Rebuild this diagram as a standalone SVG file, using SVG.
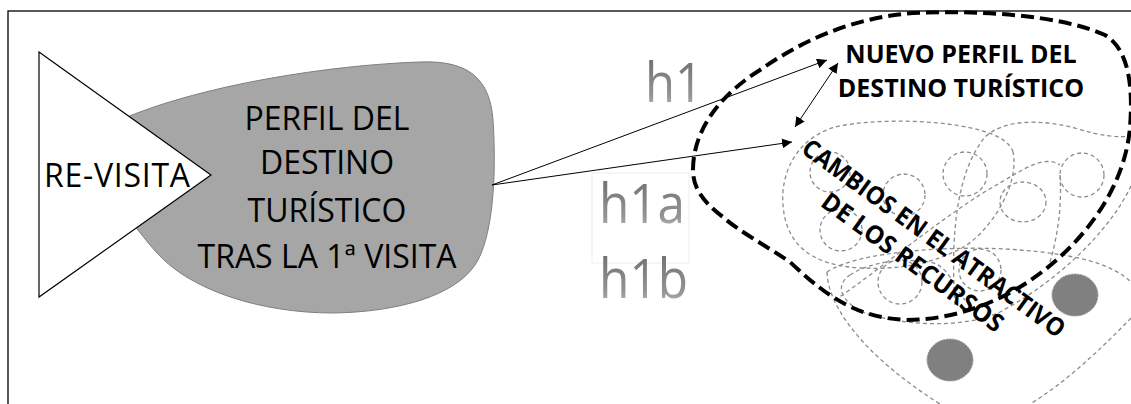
<svg xmlns="http://www.w3.org/2000/svg" width="1131" height="404" viewBox="0 0 1131 404">
<style>
.frame{fill:none;stroke:#000;stroke-width:1.3}
.lbl{font-family:"Open Sans","Noto Sans",sans-serif;fill:#000}
.hl{font-family:"Open Sans","Noto Sans",sans-serif;font-size:55px;fill:url(#hg)}
.bold{font-family:"Open Sans","Noto Sans",sans-serif;font-weight:bold;font-size:25px;fill:#000}
.arr{fill:none;stroke:#000;stroke-width:1}
.g{fill:none;stroke:#8c8c8c;stroke-width:1.3;stroke-dasharray:4 3}
.dot{fill:#808080;stroke:#9a9a9a;stroke-width:1;stroke-dasharray:2 1}
.big{fill:none;stroke:#000;stroke-width:4;stroke-dasharray:13 6}
</style>
<defs>
<linearGradient id="hg" x1="0" y1="0" x2="0" y2="1">
<stop offset="0" stop-color="#646464"/>
<stop offset="0.7" stop-color="#949494"/>
<stop offset="1" stop-color="#cfcfcf"/>
</linearGradient>
<marker id="ah" viewBox="0 0 10 10" refX="10" refY="5" markerWidth="10" markerHeight="10" markerUnits="userSpaceOnUse" orient="auto-start-reverse">
<path d="M0,0 L10,5 L0,10 z" fill="#000"/>
</marker>
</defs>
<rect width="1131" height="404" fill="#fff"/>
<rect class="frame" x="8" y="11" width="1200" height="500"/>

<g id="perfil">
<path d="M120,120 C200,85 330,65 420,62 C470,60 490,80 493,120 C497,180 492,240 475,265 C455,295 400,312 333,313 C260,313 190,290 157,253 C145,240 135,225 125,215 Z" fill="#a6a6a6" stroke="#7f7f7f" stroke-width="1"/>
<text class="lbl" font-size="32" text-anchor="middle"><tspan x="327" y="130">PERFIL DEL</tspan><tspan x="327" y="174">DESTINO</tspan><tspan x="327" y="222">TURÍSTICO</tspan><tspan x="327" y="268">TRAS LA 1ª VISITA</tspan></text>
</g>

<g id="revisita">
<polygon points="39,52 211,175 39,297" fill="#fff" stroke="#000" stroke-width="1.2"/>
<text class="lbl" font-size="32" x="44" y="187" textLength="146">RE-VISITA</text>
</g>

<g id="hypotheses">
<text class="hl" x="645" y="102" textLength="58" lengthAdjust="spacingAndGlyphs">h1</text>
<rect x="592" y="173" width="97" height="90" fill="#fff" stroke="#eeeeee" stroke-width="1"/>
<text class="hl" x="599" y="223" textLength="86" lengthAdjust="spacingAndGlyphs">h1a</text>
<text class="hl" x="599" y="298" textLength="89" lengthAdjust="spacingAndGlyphs">h1b</text>
</g>

<g id="recursos">
<path class="g" d="M1013,152 C1005,122 900,116 845,125 C800,132 780,170 783,205 C786,245 812,266 862,268 C905,270 935,262 962,248 C990,232 1020,185 1013,152"/>
<path class="g" d="M955,305 C950,230 958,170 985,137 C1005,118 1045,120 1075,128 C1100,136 1120,138 1131,136"/>
<path class="g" d="M835,300 C880,270 950,210 1000,183 C1025,168 1045,155 1060,165"/>
<path class="g" d="M1060,175 C1062,205 1058,235 1050,262"/>
<path class="g" d="M1131,186 C1110,230 1060,280 1000,312 C960,330 900,325 862,312 C840,300 835,285 850,275"/>
<path class="g" d="M827,272 C860,250 960,245 1020,250 C1070,254 1110,262 1131,282"/>
<path class="g" d="M827,272 C828,310 870,360 940,404"/>
<path class="g" d="M1131,318 C1100,350 1065,383 1030,404"/>
<path class="g" d="M850,275 C870,262 900,258 930,262 C950,266 955,290 965,300"/>
<circle class="g" cx="830" cy="172" r="20"/>
<circle class="g" cx="904" cy="195" r="21"/>
<circle class="g" cx="841" cy="230" r="21"/>
<circle class="g" cx="965" cy="174" r="22"/>
<ellipse class="g" cx="1023" cy="202" rx="23" ry="20"/>
<circle class="g" cx="1082" cy="175" r="22"/>
<circle class="g" cx="900" cy="282" r="22"/>
<circle class="g" cx="980" cy="270" r="21"/>
<ellipse class="dot" cx="1075" cy="295" rx="23" ry="21"/>
<ellipse class="dot" cx="950" cy="360" rx="23" ry="21"/>
<g transform="translate(934,238) rotate(36)">
<text class="bold" text-anchor="middle" x="0" y="9" textLength="318" lengthAdjust="spacingAndGlyphs">CAMBIOS EN EL ATRACTIVO</text>
<text class="bold" text-anchor="middle" x="-3" y="41" textLength="218" lengthAdjust="spacingAndGlyphs">DE LOS RECURSOS</text>
</g>
</g>

<g id="nuevo">
<path class="big" d="M693,170 C693,130 720,95 760,70 C800,42 850,18 913,13 C980,10 1060,15 1105,35 C1130,50 1133,90 1130,127 C1125,190 1080,250 1020,287 C990,305 950,320 907,320 C860,318 830,300 790,262 C765,245 740,232 723,217 C705,203 693,190 693,170 Z"/>
<text class="bold" text-anchor="middle"><tspan x="961" y="63">NUEVO PERFIL DEL</tspan><tspan x="961" y="97">DESTINO TURÍSTICO</tspan></text>
</g>

<g id="connectors">
<line class="arr" x1="492" y1="185" x2="827" y2="60" marker-end="url(#ah)"/>
<line class="arr" x1="492" y1="185" x2="792" y2="142" marker-end="url(#ah)"/>
<line class="arr" x1="838" y1="63" x2="795" y2="127" marker-start="url(#ah)" marker-end="url(#ah)"/>
</g>
</svg>
